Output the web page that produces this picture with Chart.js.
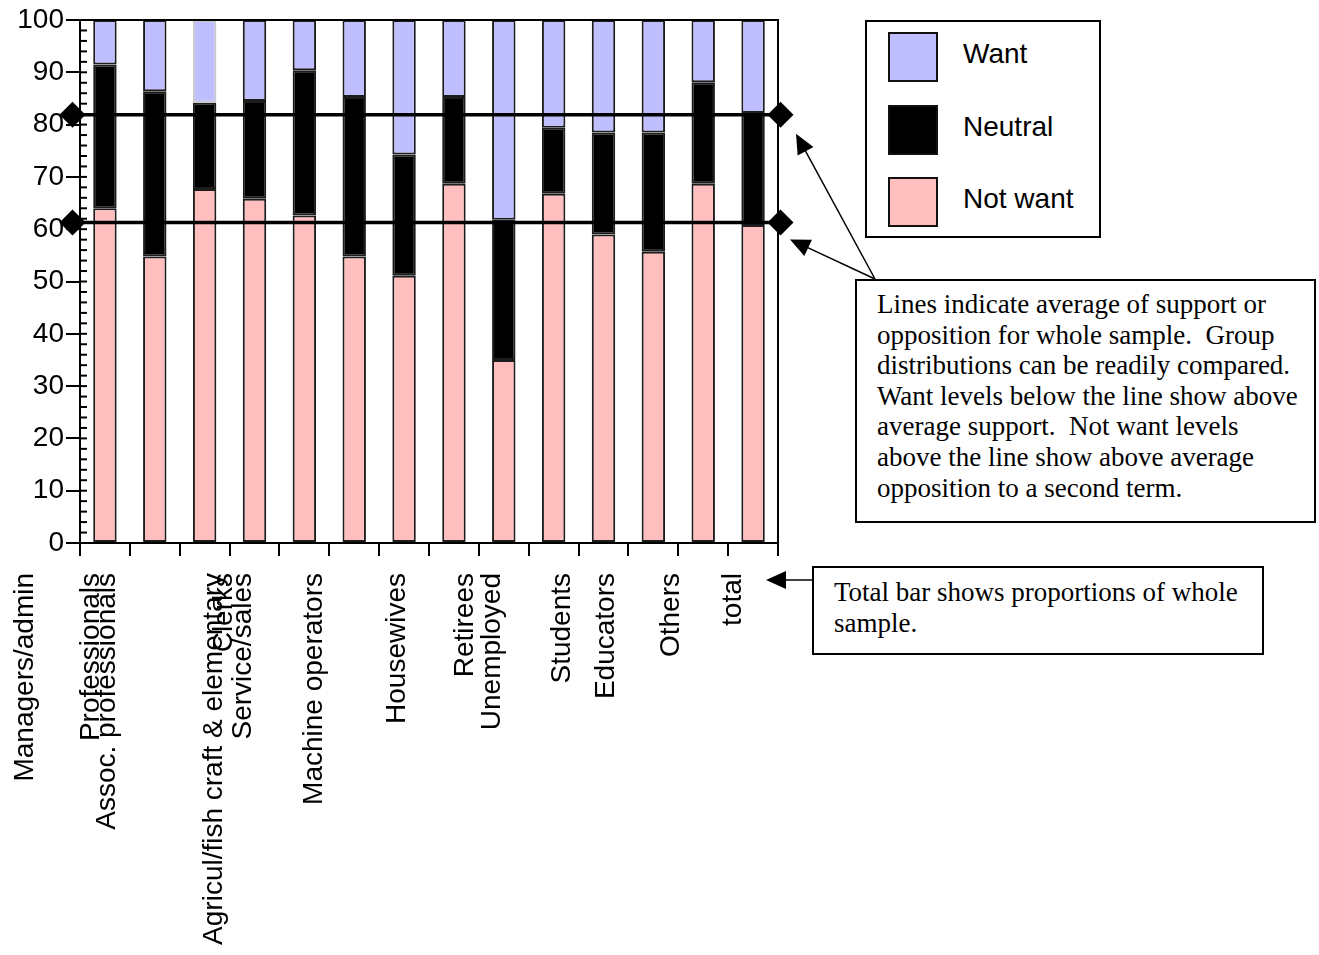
<!DOCTYPE html>
<html>
<head>
<meta charset="utf-8">
<title>Support for a second term by occupation</title>
<script src="https://cdn.jsdelivr.net/npm/chart.js@4.4.1/dist/chart.umd.min.js"></script>
<style>
  html, body { margin: 0; padding: 0; background: #fff; }
  #wrap { position: relative; width: 1319px; height: 955px; overflow: hidden; }
  #wrap canvas { position: absolute; left: 0; top: 0; }
  .legend { position: absolute; border: 2px solid #000; box-sizing: border-box; background: #fff;
            font-family: "Liberation Sans", Arial, sans-serif; font-size: 28px; color: #000; }
  .legend .row { position: absolute; left: 21px; height: 50px; display: flex; align-items: center; }
  .legend .row span { position: relative; top: -3px; }
  .legend .swatch { width: 50px; height: 50px; box-sizing: border-box; border: 2px solid #111; margin-right: 25px; }
  .note { position: absolute; border: 2px solid #000; box-sizing: border-box; background: #fff;
          font-family: "Liberation Serif", "Times New Roman", serif; font-size: 27px; line-height: 30.6px;
          white-space: pre; color: #000; padding-left: 20px; }
</style>
</head>
<body>
<div id="wrap">
  <canvas id="myChart" width="1319" height="955"></canvas>
  <div class="legend" id="legend"></div>
  <div class="note" id="noteLines"></div>
  <div class="note" id="noteTotal"></div>
</div>
<script>
// occupation groups, one stacked bar each
const categories = ['Managers/admin', 'Professionals', 'Assoc. professionals', 'Agricul/fish craft & elementary',
  'Clerks', 'Service/sales', 'Machine operators', 'Housewives', 'Retirees', 'Unemployed',
  'Students', 'Educators', 'Others', 'total'];

// percentages, stacked bottom to top
const notWant = [64.0, 54.8, 67.7, 65.8, 62.6, 54.8, 51.1, 68.7, 35.0, 66.8, 59.0, 55.7, 68.7, 60.8];
const neutral = [27.5, 31.6, 16.5, 18.7, 27.8, 30.5, 23.2, 16.6, 26.8, 12.6, 19.5, 22.8, 19.4, 21.4];
const want    = [ 8.5, 13.6, 15.8, 15.5,  9.6, 14.7, 25.7, 14.7, 38.2, 20.6, 21.5, 21.5, 11.9, 17.8];

const seriesNames = ['Not want', 'Neutral', 'Want'];
const seriesColors = ['#ffbfbf', '#000000', '#bfbfff'];

// whole-sample averages: not want, and not want + neutral
const sampleAverages = [61.3, 81.9];

const yTickValues = [0, 10, 20, 30, 40, 50, 60, 70, 80, 90, 100];

// sideways nudges (px) for the rotated category labels
const labelNudge = [-80, -64, -97, -40, -80, -111, -90, -57, -39, -61, -41, -47, -32, -20];

const sans = '"Liberation Sans", Arial, sans-serif';

// note boxes
const notes = {
  noteLines: { left: 855, top: 279, width: 461, height: 244, padTop: 8,
    text: 'Lines indicate average of support or\nopposition for whole sample.  Group\ndistributions can be readily compared.\nWant levels below the line show above\naverage support.  Not want levels\nabove the line show above average\nopposition to a second term.' },
  noteTotal: { left: 812, top: 566, width: 452, height: 89, padTop: 9,
    text: 'Total bar shows proportions of whole\nsample.' }
};
Object.keys(notes).forEach(function(id) {
  const n = notes[id];
  const el = document.getElementById(id);
  el.style.left = n.left + 'px';
  el.style.top = n.top + 'px';
  el.style.width = n.width + 'px';
  el.style.height = n.height + 'px';
  el.style.paddingTop = n.padTop + 'px';
  el.textContent = n.text;
});

// legend: Want on top, Not want at the bottom
const legendEl = document.getElementById('legend');
Object.assign(legendEl.style, { left: '865px', top: '20px', width: '236px', height: '218px' });
[2, 1, 0].forEach(function(s, row) {
  const r = document.createElement('div');
  r.className = 'row';
  r.style.top = (10 + row * 72.5) + 'px';
  const sw = document.createElement('div');
  sw.className = 'swatch';
  sw.style.background = seriesColors[s];
  const t = document.createElement('span');
  t.textContent = seriesNames[s];
  r.appendChild(sw);
  r.appendChild(t);
  legendEl.appendChild(r);
});

function drawArrow(ctx, x0, y0, x1, y1) {
  const ang = Math.atan2(y1 - y0, x1 - x0);
  const len = 20, half = 9;
  const c = Math.cos(ang), s = Math.sin(ang);
  ctx.beginPath();
  ctx.moveTo(x0, y0);
  ctx.lineTo(x1 - c * len * 0.8, y1 - s * len * 0.8);
  ctx.stroke();
  ctx.beginPath();
  ctx.moveTo(x1, y1);
  ctx.lineTo(x1 - len * c + half * s, y1 - len * s - half * c);
  ctx.lineTo(x1 - len * c - half * s, y1 - len * s + half * c);
  ctx.closePath();
  ctx.fill();
}

// box frame, inner minor ticks, rotated category labels and the callout arrows
const extras = {
  id: 'extras',
  afterDraw(chart) {
    const ctx = chart.ctx;
    const area = chart.chartArea;
    const xs = chart.scales.x, ys = chart.scales.y;
    ctx.save();
    ctx.strokeStyle = '#000';
    ctx.fillStyle = '#000';
    ctx.lineWidth = 2;

    ctx.beginPath();
    ctx.moveTo(area.left, area.top);
    ctx.lineTo(area.right, area.top);
    ctx.lineTo(area.right, area.bottom);
    ctx.stroke();

    for (let v = 2; v < 100; v += 2) {
      const y = ys.getPixelForValue(v);
      ctx.beginPath();
      ctx.moveTo(area.left, y);
      ctx.lineTo(area.left + 7, y);
      ctx.stroke();
    }

    ctx.font = '28px ' + sans;
    ctx.textAlign = 'right';
    ctx.textBaseline = 'middle';
    categories.forEach(function(label, i) {
      ctx.save();
      ctx.translate(xs.getPixelForValue(i) + labelNudge[i], area.bottom + 30);
      ctx.rotate(-Math.PI / 2);
      ctx.fillText(label, 0, 0);
      ctx.restore();
    });

    ctx.lineWidth = 1.5;
    const a = notes.noteLines, b = notes.noteTotal;
    drawArrow(ctx, a.left + 20, a.top, area.right + 18, ys.getPixelForValue(sampleAverages[1]) + 19);
    drawArrow(ctx, a.left + 20, a.top, area.right + 12, ys.getPixelForValue(sampleAverages[0]) + 17);
    drawArrow(ctx, b.left, b.top + 14, area.right - 12, b.top + 14);
    ctx.restore();
  }
};

function averageLine(value, stack) {
  return {
    type: 'line',
    label: 'Sample average',
    data: [{ x: -0.65, y: value }, { x: categories.length - 0.45, y: value }],
    xAxisID: 'xAvg',
    stack: stack,
    order: -1,
    clip: false,
    borderColor: '#000',
    borderWidth: 3.5,
    pointStyle: 'rectRot',
    pointRadius: 13,
    pointBackgroundColor: '#000',
    pointBorderColor: '#000',
    pointBorderWidth: 0
  };
}

const barValues = [notWant, neutral, want];
// the Agricul/fish want segment has a pale outline
const wantEdge = categories.map((c, i) => i === 2 ? '#c8c8c8' : '#1c1c1c');

const ctx = document.getElementById('myChart').getContext('2d');
const myChart = new Chart(ctx, {
  type: 'bar',
  data: {
    labels: categories,
    datasets: [
      averageLine(sampleAverages[0], 'avgLow'),
      averageLine(sampleAverages[1], 'avgHigh')
    ].concat(barValues.map(function(vals, s) {
      return {
        label: seriesNames[s],
        data: vals,
        backgroundColor: seriesColors[s],
        borderColor: s === 2 ? wantEdge : '#1c1c1c',
        borderWidth: 2,
        borderSkipped: false,
        barPercentage: 0.47,
        categoryPercentage: 1.0,
        grouped: false,
        stack: 'groups'
      };
    }))
  },
  options: {
    responsive: false,
    devicePixelRatio: 1,
    animation: false,
    layout: { padding: { top: 20, right: 541, left: 0, bottom: 0 } },
    plugins: {
      legend: { display: false },
      tooltip: { enabled: false }
    },
    scales: {
      x: {
        type: 'category',
        stacked: true,
        offset: true,
        grid: { offset: true, drawOnChartArea: false, drawTicks: true, tickLength: 13, color: '#000', lineWidth: 2 },
        border: { color: '#000', width: 2 },
        ticks: { display: false },
        afterFit: function(scale) { scale.height = 412; }
      },
      xAvg: {
        type: 'linear',
        display: false,
        offset: false,
        min: -0.5,
        max: categories.length - 0.5
      },
      y: {
        stacked: true,
        min: 0,
        max: 100,
        grid: { drawOnChartArea: false, drawTicks: true, tickLength: 14, color: '#000', lineWidth: 2 },
        border: { color: '#000', width: 2 },
        ticks: { color: '#000', padding: 2, font: { family: sans, size: 28 } },
        afterBuildTicks: function(scale) { scale.ticks = yTickValues.map(v => ({ value: v })); },
        afterFit: function(scale) { scale.width = 80; }
      }
    }
  },
  plugins: [extras]
});
</script>
</body>
</html>
